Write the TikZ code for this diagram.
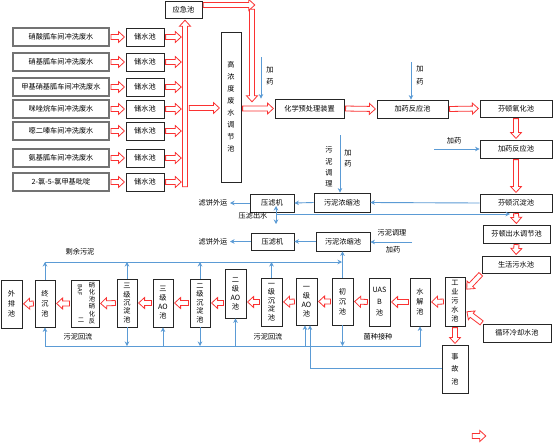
\documentclass[tikz,border=0pt]{standalone}
\usepackage{fontspec}
\newfontfamily\cjk{Noto Sans CJK SC}
\usetikzlibrary{calc,arrows.meta}
\definecolor{flowblue}{RGB}{91,155,213}
\definecolor{flowred}{RGB}{250,50,50}
\tikzset{
 box/.style={draw=black!85,line width=0.8pt,fill=white,inner sep=0pt,align=center,font=\cjk\fontsize{7.2}{9}\selectfont},
 srcbox/.style={draw=black!55,line width=1.4pt},
 vt/.style={font=\cjk\fontsize{7.2}{#1}\selectfont},
 lbl/.style={inner sep=0pt,align=center,font=\cjk\fontsize{7.2}{9}\selectfont},
 bl/.style={draw=flowblue,line width=0.9pt,-{Stealth[length=4.5pt,width=4.5pt]}},
 harrow/.style={draw=flowred,line width=0.8pt,fill=white,line join=miter},
}
\newcommand\barrow[2]{%
 \path ($(#1)!1.2pt!(#2)$) coordinate (ba) ($(#2)!1.2pt!(#1)$) coordinate (bb);
 \path ($(bb)!6pt!(ba)$) coordinate (bm);
 \draw[harrow] ($(ba)!2.5pt!90:(bb)$) -- ($(bm)!2.5pt!-90:(ba)$) -- ($(bm)!5.5pt!-90:(ba)$) -- (bb) -- ($(bm)!5.5pt!90:(ba)$) -- ($(bm)!2.5pt!90:(ba)$) -- ($(ba)!2.5pt!-90:(bb)$) -- cycle;}
\newcommand\rbox[7][]{%
 \pgfmathsetmacro\rbcx{(#3+#5)/2}%
 \pgfmathsetmacro\rbcy{(#4+#6)/2}%
 \pgfmathsetmacro\rbw{#5-#3}%
 \pgfmathsetmacro\rbh{#6-#4}%
 \node[box,minimum width=\rbw pt,minimum height=\rbh pt,#1] (#2) at (\rbcx,\rbcy) {#7};}
\begin{document}
\begin{tikzpicture}[x=1pt,y=-1pt]
\fill[white] (0,0) rectangle (554,442);
\useasboundingbox (0,0) rectangle (554,442);

% ---- source boxes and storage tanks
\rbox[srcbox]{s1}{13}{28}{109}{46}{硝酸胍车间冲洗废水}
\rbox[srcbox]{s2}{13}{53}{109}{71}{硝基胍车间冲洗废水}
\rbox[srcbox]{s3}{13}{78}{109}{96}{甲基硝基胍车间冲洗废水}
\rbox[srcbox]{s4}{13}{100}{109}{118}{咪唑烷车间冲洗废水}
\rbox[srcbox]{s5}{13}{122}{109}{140}{噁二嗪车间冲洗废水}
\rbox[srcbox]{s6}{13}{149}{109}{167}{氨基胍车间冲洗废水}
\rbox[srcbox]{s7}{13}{173}{109}{191}{2-氯-5-氯甲基吡啶}
\foreach \n/\a/\b in {1/28/46,2/53/71,3/78/96,4/100/118,5/122/140,6/149/167,7/173/191}{
 \rbox{c\n}{126}{\a}{164}{\b}{储水池}
}
\foreach \n in {1,...,7}{
 \path (c\n.east) ++(18,0) coordinate (k\n);
 \barrow{s\n.east}{c\n.west}
 \barrow{c\n.east}{k\n}
}
\rbox{yj}{165}{1}{202}{18}{应急池}
\coordinate (colb) at (185,188);
\coordinate (colt) at (185,19);
\barrow{colb}{colt}

% ---- high concentration tank and pretreatment line
\rbox[vt=12]{hz}{221}{32}{241}{182}{高\\浓\\度\\废\\水\\调\\节\\池}
\coordinate (colr) at (188,108);
\barrow{colr}{hz.west |- colr}
\coordinate (ya) at (202,5);
\coordinate (yb) at (256,5);
\barrow{ya}{yb}
\coordinate (yc) at (252,8);
\coordinate (yd) at (252,103);
\barrow{yc}{yd}

\rbox{hx}{275}{99}{344}{118}{化学预处理装置}
\barrow{hz.east |- hx.west}{hx.west}
\coordinate (d1) at (261,57);
\draw[bl] (d1) -- (d1 |- hx.north);
\node[lbl,vt=12] (l1) at (270,76) {加\\药};

\rbox{jy1}{377}{100}{448}{118}{加药反应池}
\rbox{fy}{480}{100}{552}{117}{芬顿氧化池}
\rbox{jy2}{480}{140}{552}{158}{加药反应池}
\rbox{fc}{480}{194}{552}{212}{芬顿沉淀池}
\barrow{hx.east}{jy1.west}
\barrow{jy1.east}{fy.west}
\barrow{fy.south}{jy2.north}
\barrow{jy2.south}{fc.north}
\coordinate (d2) at (411,62);
\draw[bl] (d2) -- (d2 |- jy1.north);
\node[lbl,vt=13] (l2) at (420,75) {加\\药};
\coordinate (d3) at (434,149);
\draw[bl] (d3) -- (jy2.west);
\node[lbl] (l3) at (454,141) {加药};

% ---- sludge treatment
\rbox{nz1}{314}{193}{370}{212}{污泥浓缩池}
\rbox{yl1}{250}{194}{294}{212}{压滤机}
\draw[bl] (fc.west) -- (nz1.east);
\draw[bl] (nz1.west) -- (yl1.east);
\coordinate (bw1) at (230,203);
\draw[bl] (yl1.west) -- (bw1);
\node[lbl] (l4) at (213,203) {滤饼外运};
\coordinate (d4) at (340,135);
\draw[bl] (d4) -- (d4 |- nz1.north);
\node[lbl,vt=11.3] (l5) at (329,167) {污\\泥\\调\\理};
\node[lbl,vt=11] (l6) at (348,158) {加\\药};
\coordinate (pt) at (276,206);
\coordinate (pa) at (276,224);
\draw[bl,{Stealth[length=4.5pt,width=4.5pt]}-{Stealth[length=4.5pt,width=4.5pt]}] (pt) -- (pa);
\coordinate (pm) at (276,214);
\coordinate (pe) at (510,214);
\draw[bl] (pm) -- (pe);
\node[lbl] (l7) at (253,216) {压滤出水};

\rbox{nz2}{316}{232}{370}{251}{污泥浓缩池}
\rbox{yl2}{251}{233}{294}{250}{压滤机}
\draw[bl] (nz2.west) -- (yl2.east);
\coordinate (bw2) at (230,241.5);
\draw[bl] (yl2.west) -- (bw2);
\node[lbl] (l8) at (213,241.5) {滤饼外运};
\coordinate (d5) at (412,242);
\draw[bl] (d5) -- (nz2.east |- d5);
\node[lbl] (l9) at (392,233) {污泥调理};
\node[lbl] (l10) at (393,250) {加药};

% ---- right column
\rbox{fct}{483}{225}{550}{243}{芬顿出水调节池}
\rbox{sh}{482}{256}{550}{273}{生活污水池}
\rbox{xh}{483}{324}{551}{342}{循环冷却水池}
\rbox[vt=9]{gy}{445}{277}{465}{326}{工\\业\\污\\水\\池}
\rbox[vt=12.5]{sg}{442}{345}{468}{393}{事\\故\\池}
\barrow{fc.south}{fct.north}
\barrow{fct.south}{sh.north}
\coordinate (g1e) at (466,290);
\coordinate (g2e) at (466,311);
\barrow{sh.south west}{g1e}
\barrow{xh.north west}{g2e}
\barrow{gy.south}{sg.north}

% ---- biological line
\rbox[vt=10]{wp}{1}{280}{22}{328}{外\\排\\池}
\rbox[vt=10]{zc}{35}{280}{55}{327}{终\\沉\\池}
\rbox{baf}{71}{280}{99}{327}{}
\node[lbl,font=\cjk\fontsize{6.3}{7.2}\selectfont] (baf1) at (92,303) {硝\\化\\池\\硝\\化\\反};
\node[lbl,rotate=-90,font=\cjk\fontsize{5.8}{7}\selectfont] (baf2) at (80,290) {BAF};
\node[lbl,font=\cjk\fontsize{6.3}{7.2}\selectfont] (baf3) at (81,320) {二};
\rbox[vt=8.4]{s3c}{117}{279}{137}{327}{三\\级\\沉\\淀\\池}
\rbox[vt=9]{s3a}{153}{279}{173}{327}{三\\级\\AO\\池}
\rbox[vt=8.4]{s2c}{190}{279}{210}{327}{二\\级\\沉\\淀\\池}
\rbox[vt=9]{s2a}{225}{269}{246}{318}{二\\级\\AO\\池}
\rbox[vt=8.4]{s1c}{261}{278}{282}{326}{一\\级\\沉\\淀\\池}
\rbox[vt=9]{s1a}{296}{278}{317}{325}{一\\级\\AO\\池}
\rbox[vt=10]{cc}{332}{278}{353}{325}{初\\沉\\池}
\rbox[vt=11.5]{ua}{369}{278}{390}{326}{UAS\\B\\池}
\rbox[vt=10]{sj}{410}{278}{430}{326}{水\\解\\池}

\barrow{gy.west}{sj.east}
\barrow{sj.west}{ua.east}
\barrow{ua.west}{cc.east}
\barrow{cc.west}{s1a.east}
\barrow{s1a.west}{s1c.east}
\barrow{s1c.west}{s2a.east |- s1c.west}
\barrow{s2a.west |- s2c.east}{s2c.east}
\barrow{s2c.west}{s3a.east}
\barrow{s3a.west}{s3c.east}
\barrow{s3c.west}{baf.east}
\barrow{baf.west}{zc.east}
\barrow{zc.west}{wp.east}

% excess sludge
\coordinate (jl) at (0,262);
\foreach \t in {zc,s3c,s2c,s1c}{
 \draw[bl] (\t.north) -- (\t.north |- jl);
}
\draw[bl,shorten >=0.5pt] (zc.north |- jl) -- (cc.north |- jl);
\draw[bl] (cc.north) -- (cc.north |- nz2.south);
\node[lbl] (l11) at (80,252) {剩余污泥};

% sludge return
\coordinate (hl) at (0,346);
\draw[bl] (zc.south |- hl) -- (sj.south |- hl) -- (sj.south);
\draw[bl] (zc.south |- hl) -- (zc.south);
\foreach \t in {s3c,s2c,cc}{
 \draw[bl] (\t.south) -- (\t.south |- hl);
}
\foreach \t in {s3a,s2a}{
 \draw[bl] (\t.south |- hl) -- (\t.south);
}
\coordinate (a1) at (305,346);
\draw[bl] (a1) -- (a1 |- s1a.south);
\coordinate (a2) at (310,368);
\draw[bl] (sg.west |- a2) -- (a2) -- (a2 |- s1a.south);
\node[lbl] (l12) at (78,337) {污泥回流};
\node[lbl] (l13) at (268,337) {污泥回流};
\node[lbl] (l14) at (378,337) {菌种接种};

% legend arrow
\coordinate (lg1) at (471,436);
\coordinate (lg2) at (487,436);
\barrow{lg1}{lg2}
\end{tikzpicture}
\end{document}
